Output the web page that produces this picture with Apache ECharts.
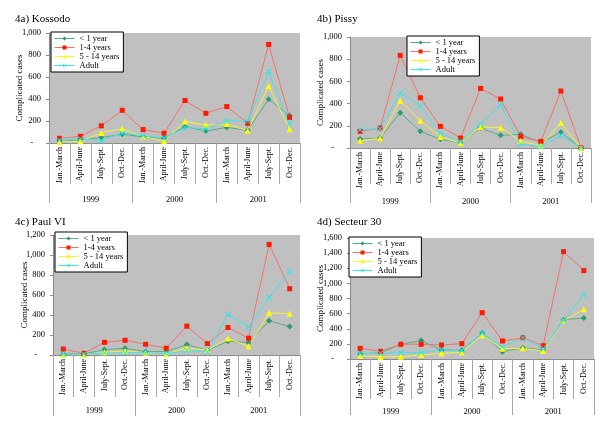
<!DOCTYPE html>
<html>
<head>
<meta charset="utf-8">
<script src="https://cdn.jsdelivr.net/npm/echarts@6/dist/echarts.min.js"></script>
<style>html,body{margin:0;padding:0;background:#fff}#c{width:600px;height:428px}</style>
</head>
<body>
<div id="c"></div>
<script>
// ---- data ----
const quarters = ['Jan.-March','April-June','July-Sept.','Oct.-Dec.','Jan.-March','April-June','July-Sept.','Oct.-Dec.','Jan.-March','April-June','July-Sept.','Oct.-Dec.'];
const years = ['1999','2000','2001'];
const seriesNames = ['< 1 year','1-4 years','5 - 14 years','Adult'];
const panelTitles = ['4a) Kossodo','4b) Pissy','4c) Paul VI','4d) Secteur 30'];
const yMax = [1000, 1000, 1200, 1600];

const kossodoLt1   = [12, 31, 49, 80, 55, 43, 150, 108, 142, 115, 398, 249];
const kossodo1to4  = [43, 61, 156, 297, 122, 89, 386, 270, 331, 178, 896, 233];
const kossodo5to14 = [8, 15, 92, 129, 60, 15, 196, 163, 172, 112, 518, 125];
const kossodoAdult = [25, 37, 20, 89, 67, 43, 139, 130, 200, 200, 649, 176];

const pissyLt1   = [81, 90, 318, 150, 78, 48, 180, 114, 123, 50, 141, 0];
const pissy1to4  = [150, 180, 834, 453, 195, 90, 537, 441, 102, 60, 513, 3];
const pissy5to14 = [66, 87, 426, 246, 99, 45, 189, 183, 63, 21, 225, 0];
const pissyAdult = [165, 175, 495, 378, 135, 58, 216, 390, 35, 12, 114, 0];

const paulLt1   = [10, 10, 54, 67, 34, 34, 104, 47, 137, 124, 342, 285];
const paul1to4  = [60, 17, 127, 147, 107, 67, 288, 114, 275, 168, 1106, 663];
const paul5to14 = [3, 0, 27, 40, 23, 10, 70, 50, 164, 87, 422, 412];
const paulAdult = [7, 7, 20, 23, 23, 13, 44, 30, 405, 281, 573, 838];

const secteurLt1   = [71, 80, 194, 243, 119, 115, 340, 97, 150, 119, 520, 542];
const secteur1to4  = [141, 101, 194, 194, 185, 203, 613, 238, 282, 176, 1420, 1169];
const secteur5to14 = [44, 26, 31, 53, 75, 88, 313, 137, 141, 106, 503, 657];
const secteurAdult = [70, 75, 84, 84, 119, 110, 340, 159, 282, 141, 503, 851];

const panelData = [
  [kossodoLt1, kossodo1to4, kossodo5to14, kossodoAdult],
  [pissyLt1, pissy1to4, pissy5to14, pissyAdult],
  [paulLt1, paul1to4, paul5to14, paulAdult],
  [secteurLt1, secteur1to4, secteur5to14, secteurAdult]
];

// ---- layout / style ----
const FONT = '"Liberation Serif","Times New Roman",serif';
const grids = [
  {left: 49, top: 33, width: 251, height: 110},
  {left: 350, top: 37, width: 241, height: 111},
  {left: 53, top: 235, width: 247, height: 120},
  {left: 350, top: 238, width: 244, height: 121}
];
const titlePos = [[10, 9], [312, 9], [10, 212], [312, 212]];
const legendPos = [[51, 32], [407, 36], [55, 232], [349, 237]];
const qTick = [41, 36, 42, 40];
const yTick = [60, 55, 61, 56];
const yLabelMargin = [52, 49, 51, 48];
const nameGaps = [25, 25, 24, 25];

const xShape = 'path://M0,1L1,0L5,4L9,0L10,1L6,5L10,9L9,10L5,6L1,10L0,9L4,5Z';
const styles = [
  {symbol: 'diamond', size: 6, marker: '#2f9a6c', line: '#5aaa8e'},
  {symbol: 'rect', size: 5, marker: '#ff1a00', line: '#f07468'},
  {symbol: 'triangle', size: 6, marker: '#ffff00', line: '#f2f23a'},
  {symbol: xShape, size: 6, marker: '#22e8f0', line: '#40e4ea'}
];

const fmt = v => v === 0 ? '{z|-}' : v.toLocaleString('en-US');

const option = {
  animation: false,
  backgroundColor: '#fff',
  textStyle: {fontFamily: FONT},
  title: [], legend: [], grid: [], xAxis: [], yAxis: [], series: []
};

for (let p = 0; p < 4; p++) {
  const g = grids[p];
  option.grid.push(Object.assign({show: true, backgroundColor: '#c0c0c0', borderWidth: 0, containLabel: false}, g));
  option.title.push({
    text: panelTitles[p], left: titlePos[p][0], top: titlePos[p][1],
    textStyle: {fontFamily: FONT, fontSize: 11, fontWeight: 'normal', color: '#000'}
  });
  option.legend.push({
    data: seriesNames, orient: 'vertical', left: legendPos[p][0], top: legendPos[p][1],
    backgroundColor: '#fff', borderColor: '#000', borderWidth: 1, borderRadius: 0,
    padding: [2, 4, 2, 3], itemGap: 0, itemWidth: 20, itemHeight: 5,
    lineStyle: {width: 1},
    selectedMode: false,
    textStyle: {fontFamily: FONT, fontSize: 8.5, lineHeight: 9, color: '#000'}
  });
  // quarter axis
  option.xAxis.push({
    type: 'category', gridIndex: p, data: quarters, position: 'bottom', offset: 0,
    boundaryGap: true,
    axisLine: {show: true, lineStyle: {color: '#8a8a8a', width: 1}},
    axisTick: {show: true, interval: 0, length: qTick[p], lineStyle: {color: '#a8a8a8'}},
    axisLabel: {interval: 0, rotate: 90, margin: 4, fontFamily: FONT, fontSize: 8, color: '#000'},
    splitLine: {show: false}
  });
  // year axis
  option.xAxis.push({
    type: 'category', gridIndex: p, data: years, position: 'bottom', offset: 0,
    boundaryGap: true,
    axisLine: {show: false},
    axisTick: {show: true, interval: 0, length: yTick[p], lineStyle: {color: '#a8a8a8'}},
    axisLabel: {interval: 0, margin: yLabelMargin[p], fontFamily: FONT, fontSize: 8.5, color: '#000'},
    splitLine: {show: false}
  });
  option.yAxis.push({
    type: 'value', gridIndex: p, min: 0, max: yMax[p], interval: 200,
    name: 'Complicated cases', nameLocation: 'middle', nameGap: nameGaps[p],
    nameMoveOverlap: false,
    nameTextStyle: {fontFamily: FONT, fontSize: 9, color: '#000'},
    axisLine: {show: true, lineStyle: {color: '#8a8a8a'}},
    axisTick: {show: true, length: 3, lineStyle: {color: '#8a8a8a'}},
    axisLabel: {margin: 8, fontFamily: FONT, fontSize: 8.5, color: '#000', formatter: fmt,
      rich: {z: {fontFamily: FONT, fontSize: 8.5, color: '#000', padding: [0, 8, 0, 0]}}},
    splitLine: {show: false}
  });
  for (let s = 0; s < 4; s++) {
    const st = styles[s];
    option.series.push({
      name: seriesNames[s], type: 'line', xAxisIndex: p * 2, yAxisIndex: p,
      data: panelData[p][s],
      symbol: st.symbol, symbolSize: st.size, showAllSymbol: true,
      lineStyle: {color: st.line, width: 1},
      itemStyle: {color: st.marker},
      emphasis: {disabled: true}
    });
  }
}

const chart = echarts.init(document.getElementById('c'), null, {renderer: 'canvas'});
chart.setOption(option);
</script>
</body>
</html>
